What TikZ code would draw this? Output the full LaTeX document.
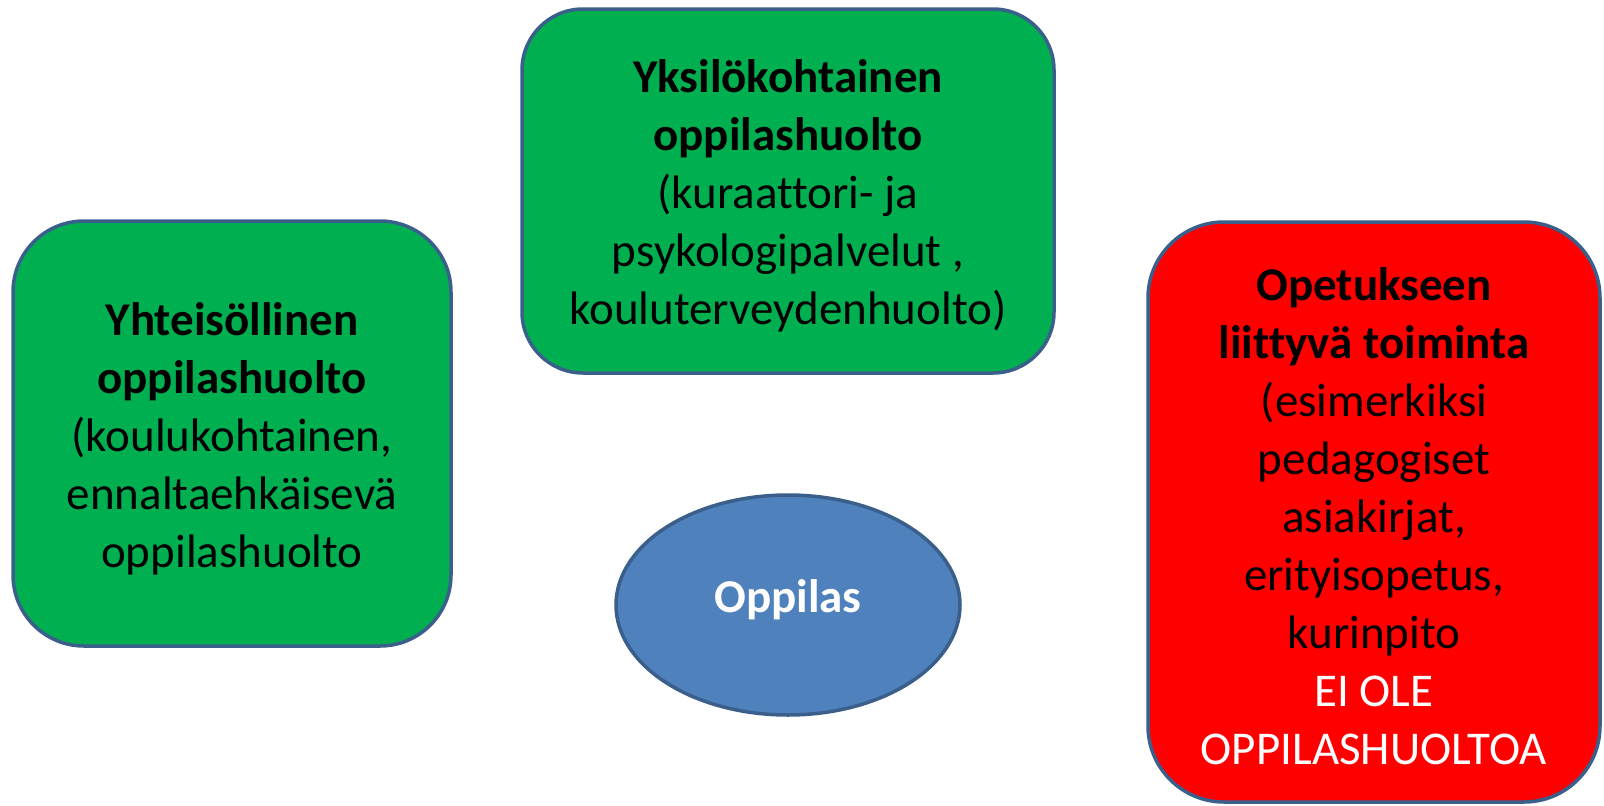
\documentclass[tikz,border=0pt]{standalone}
\usepackage{fontspec}
\setmainfont{Carlito}[Ligatures=NoCommon]
\usetikzlibrary{shapes.geometric}
\definecolor{pgreen}{HTML}{00B050}
\definecolor{pred}{HTML}{FF0000}
\definecolor{pblue}{HTML}{4F81BD}
\definecolor{pborder}{HTML}{3A5F8B}
\begin{document}
\begin{tikzpicture}[x=1pt,y=-1pt,
  txt/.style={align=center, inner sep=0pt, font=\fontsize{47}{58}\selectfont},
  box/.style={draw=pborder, line width=3.5pt, rounded corners=#1, inner sep=0pt},
  oval/.style={ellipse, draw=pborder, line width=3.5pt, fill=pblue, inner sep=0pt}]
\useasboundingbox (0,0) rectangle (1604,806);
\node[box=61pt, fill=pgreen, minimum width=532pt, minimum height=364pt,
  label={[txt, yshift=-5pt]center:{\textbf{Yksilökohtainen}\\\textbf{oppilashuolto}\\(kuraattori- ja\\psykologipalvelut ,\\kouluterveydenhuolto)}}] (top) at (788,191) {};
\node[box=71pt, fill=pgreen, minimum width=438pt, minimum height=425pt,
  label={[txt, yshift=-5pt]center:{\textbf{Yhteisöllinen}\\\textbf{oppilashuolto}\\(koulukohtainen,\\ennaltaehkäisevä\\oppilashuolto}}] (left) at (232,433.5) {};
\node[box=76pt, fill=pred, minimum width=452pt, minimum height=580pt,
  label={[txt, yshift=-4pt]center:{\textbf{Opetukseen}\\\textbf{liittyvä toiminta}\\(esimerkiksi\\pedagogiset\\asiakirjat,\\erityisopetus,\\kurinpito\\\textcolor{white}{EI OLE}\\\textcolor{white}{OPPILASHUOLTOA}}}] (right) at (1374,512) {};
\node[oval, minimum width=344pt, minimum height=220pt,
  label={[txt, text=white, font=\fontsize{47}{58}\selectfont\bfseries, yshift=5pt]center:Oppilas}] (pupil) at (788,605) {};
\end{tikzpicture}
\end{document}
